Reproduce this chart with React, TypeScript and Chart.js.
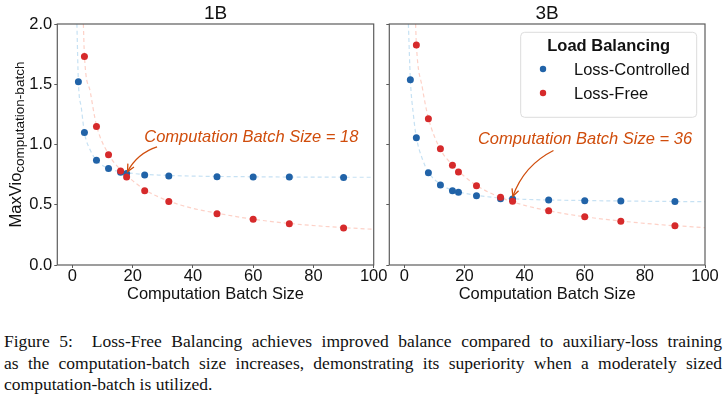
import { useEffect, useRef } from "react"
import { Chart, registerables } from "chart.js"

Chart.register(...registerables)

// --- data ---
const xTicks = [0, 20, 40, 60, 80, 100]
const yTicks = [0, 0.5, 1.0, 1.5, 2.0]

// 1B
const batch1BControlled = [2, 4, 8, 12, 16, 18, 24, 32, 48, 60, 72, 90]
const vio1BControlled = [1.52, 1.1, 0.87, 0.8, 0.77, 0.76, 0.747, 0.739, 0.733, 0.731, 0.73, 0.727]
const batch1BFree = [4, 8, 12, 16, 18, 24, 32, 48, 60, 72, 90]
const vio1BFree = [1.73, 1.15, 0.915, 0.78, 0.73, 0.617, 0.528, 0.426, 0.379, 0.343, 0.307]

// 3B
const batch3BControlled = [2, 4, 8, 12, 16, 18, 24, 32, 36, 48, 60, 72, 90]
const vio3BControlled = [1.538, 1.057, 0.766, 0.664, 0.617, 0.603, 0.575, 0.55, 0.548, 0.539, 0.534, 0.531, 0.526]
const batch3BFree = [4, 8, 12, 16, 18, 24, 32, 36, 48, 60, 72, 90]
const vio3BFree = [1.826, 1.214, 0.965, 0.827, 0.772, 0.658, 0.562, 0.529, 0.451, 0.401, 0.363, 0.326]

// dashed fitted curves
const fit1BControlledX = [1.5, 2, 3, 4, 6, 8, 12, 16, 20, 30, 40, 60, 80, 100]
const fit1BControlledY = [2.0, 1.52, 1.3, 1.1, 0.95, 0.87, 0.8, 0.775, 0.76, 0.745, 0.738, 0.732, 0.729, 0.728]
const fit1BFreeX = [3.65, 4, 6, 8, 12, 16, 20, 24, 32, 40, 48, 60, 72, 85, 100]
const fit1BFreeY = [2.0, 1.74, 1.43, 1.16, 0.92, 0.79, 0.7, 0.625, 0.53, 0.47, 0.43, 0.38, 0.345, 0.318, 0.296]
const fit3BControlledX = [1.35, 2, 3, 4, 6, 8, 12, 16, 20, 30, 40, 60, 80, 100]
const fit3BControlledY = [2.0, 1.54, 1.25, 1.06, 0.88, 0.77, 0.67, 0.62, 0.595, 0.56, 0.545, 0.535, 0.529, 0.525]
const fit3BFreeX = [3.75, 4, 6, 8, 12, 16, 20, 24, 32, 40, 48, 60, 72, 85, 100]
const fit3BFreeY = [2.0, 1.83, 1.47, 1.22, 0.96, 0.83, 0.735, 0.66, 0.56, 0.495, 0.45, 0.4, 0.365, 0.335, 0.31]

// annotation anchors, in data units: [text centre], [arrow start], [arrow tip]
const note1BText = [59.4, 1.06]
const note1BFrom = [28.1, 0.98]
const note1BTo = [18.3, 0.775]
const note3BText = [60.1, 1.04]
const note3BFrom = [49.6, 0.95]
const note3BTo = [36.1, 0.57]

const FONT = "'Liberation Sans', Arial, Helvetica, sans-serif"
const TEXT = "#111"
const FRAME = "#5c5c5c"
const BLUE = "#2163a8"
const RED = "#d62a2b"
const NOTE = "#d04d0c"

const pts = (xs: number[], ys: number[]) => xs.map((x, i) => ({ x, y: ys[i] }))

type Props = {
  title: string
  ctrlX: number[]
  ctrlY: number[]
  freeX: number[]
  freeY: number[]
  fitCtrlX: number[]
  fitCtrlY: number[]
  fitFreeX: number[]
  fitFreeY: number[]
  noteText: string
  noteAt: number[]
  noteFrom: number[]
  noteTo: number[]
  yAxisWidth: number
  padRight: number
  showYLabels: boolean
  showLegend: boolean
}

function SubPlot(p: Props) {
  const chartRef = useRef<HTMLCanvasElement>(null)
  const chartInstance = useRef<Chart | null>(null)

  useEffect(() => {
    if (!chartRef.current) return
    if (chartInstance.current) chartInstance.current.destroy()

    const decor = {
      id: "decor",
      afterDraw(chart: any) {
        const { ctx, chartArea: a, scales } = chart
        const xs = scales.x
        const ys = scales.y
        ctx.save()

        // frame
        ctx.strokeStyle = FRAME
        ctx.lineWidth = 1.2
        ctx.strokeRect(a.left, a.top, a.right - a.left, a.bottom - a.top)

        // panel title and x title
        ctx.fillStyle = TEXT
        ctx.textAlign = "center"
        ctx.textBaseline = "alphabetic"
        ctx.font = `19px ${FONT}`
        ctx.fillText(p.title, (a.left + a.right) / 2, a.top - 5.5)
        ctx.font = `16.5px ${FONT}`
        ctx.fillText("Computation Batch Size", (a.left + a.right) / 2, a.bottom + 34)

        // y title with subscript
        if (p.showYLabels) {
          ctx.save()
          ctx.translate(20.5, (a.top + a.bottom) / 2)
          ctx.rotate(-Math.PI / 2)
          ctx.textAlign = "left"
          ctx.font = `16.5px ${FONT}`
          const w1 = ctx.measureText("MaxVio").width
          ctx.font = `13.5px ${FONT}`
          const w2 = ctx.measureText("computation-batch").width
          const start = -(w1 + w2) / 2
          ctx.font = `16.5px ${FONT}`
          ctx.fillText("MaxVio", start, 0)
          ctx.font = `13.5px ${FONT}`
          ctx.fillText("computation-batch", start + w1, 3)
          ctx.restore()
        }

        // annotation
        ctx.fillStyle = NOTE
        ctx.strokeStyle = NOTE
        ctx.font = `italic 16.5px ${FONT}`
        ctx.textAlign = "center"
        ctx.textBaseline = "middle"
        ctx.fillText(p.noteText, xs.getPixelForValue(p.noteAt[0]), ys.getPixelForValue(p.noteAt[1]))
        const x0 = xs.getPixelForValue(p.noteFrom[0])
        const y0 = ys.getPixelForValue(p.noteFrom[1])
        const x1 = xs.getPixelForValue(p.noteTo[0])
        const y1 = ys.getPixelForValue(p.noteTo[1])
        const dx = x1 - x0
        const dy = y1 - y0
        const cx = (x0 + x1) / 2 - 0.2 * dy
        const cy = (y0 + y1) / 2 + 0.2 * dx
        ctx.lineWidth = 1.3
        ctx.beginPath()
        ctx.moveTo(x0, y0)
        ctx.quadraticCurveTo(cx, cy, x1, y1)
        ctx.stroke()
        const ang = Math.atan2(y1 - cy, x1 - cx)
        ctx.beginPath()
        ctx.moveTo(x1 - 8 * Math.cos(ang - 0.45), y1 - 8 * Math.sin(ang - 0.45))
        ctx.lineTo(x1, y1)
        ctx.lineTo(x1 - 8 * Math.cos(ang + 0.45), y1 - 8 * Math.sin(ang + 0.45))
        ctx.stroke()

        // legend
        if (p.showLegend) {
          const bw = 176
          const bh = 85
          const bx = a.right - 8.3 - bw
          const by = a.top + 8.3
          ctx.beginPath()
          ctx.roundRect(bx, by, bw, bh, 4)
          ctx.fillStyle = "rgba(255,255,255,0.85)"
          ctx.fill()
          ctx.strokeStyle = "#dcdcdc"
          ctx.lineWidth = 1
          ctx.stroke()
          ctx.fillStyle = TEXT
          ctx.textAlign = "center"
          ctx.textBaseline = "alphabetic"
          ctx.font = `bold 16.5px ${FONT}`
          ctx.fillText("Load Balancing", bx + bw / 2, by + 18.7)
          const items = [chart.data.datasets[1], chart.data.datasets[0]]
          items.forEach((ds: any, i: number) => {
            const base = by + 42.7 + i * 24
            ctx.fillStyle = ds.backgroundColor
            ctx.beginPath()
            ctx.arc(bx + 22.3, base - 6, 3.2, 0, Math.PI * 2)
            ctx.fill()
            ctx.fillStyle = TEXT
            ctx.textAlign = "left"
            ctx.font = `16.5px ${FONT}`
            ctx.fillText(ds.label, bx + 53.3, base)
          })
        }
        ctx.restore()
      },
    }

    const ctx = chartRef.current.getContext("2d")
    if (ctx) {
      chartInstance.current = new Chart(ctx, {
        type: "scatter",
        data: {
          datasets: [
            {
              label: "Loss-Free",
              data: pts(p.freeX, p.freeY),
              backgroundColor: RED,
              borderWidth: 0,
              pointRadius: 3.5,
              order: 0,
            },
            {
              label: "Loss-Controlled",
              data: pts(p.ctrlX, p.ctrlY),
              backgroundColor: BLUE,
              borderWidth: 0,
              pointRadius: 3.5,
              order: 1,
            },
            {
              label: "fit-controlled",
              data: pts(p.fitCtrlX, p.fitCtrlY),
              showLine: true,
              borderColor: "rgba(160,205,235,0.6)",
              borderWidth: 1.2,
              borderDash: [4, 3],
              pointRadius: 0,
              cubicInterpolationMode: "monotone",
              order: 2,
            },
            {
              label: "fit-free",
              data: pts(p.fitFreeX, p.fitFreeY),
              showLine: true,
              borderColor: "rgba(252,178,162,0.6)",
              borderWidth: 1.2,
              borderDash: [4, 3],
              pointRadius: 0,
              cubicInterpolationMode: "monotone",
              order: 2,
            },
          ],
        } as any,
        options: {
          animation: false,
          responsive: true,
          maintainAspectRatio: false,
          layout: { padding: { top: 24, right: p.padRight, left: 0, bottom: 0 } },
          plugins: { legend: { display: false }, tooltip: { enabled: false }, title: { display: false } },
          scales: {
            x: {
              type: "linear",
              min: -5,
              max: 100,
              afterBuildTicks: (s: any) => {
                s.ticks = xTicks.map((v) => ({ value: v }))
              },
              afterFit: (s: any) => {
                s.height = 45
              },
              grid: { drawOnChartArea: false, drawTicks: true, tickLength: 3, tickColor: FRAME, tickWidth: 1 },
              border: { display: false },
              ticks: { color: TEXT, font: { family: FONT, size: 16.5 }, padding: -1, maxRotation: 0, autoSkip: false },
            },
            y: {
              type: "linear",
              min: 0,
              max: 2,
              afterBuildTicks: (s: any) => {
                s.ticks = yTicks.map((v) => ({ value: v }))
              },
              afterFit: (s: any) => {
                s.width = p.yAxisWidth
              },
              grid: { drawOnChartArea: false, drawTicks: true, tickLength: 3, tickColor: FRAME, tickWidth: 1 },
              border: { display: false },
              ticks: {
                display: p.showYLabels,
                color: TEXT,
                font: { family: FONT, size: 16.5 },
                padding: 2,
                callback: (v: any) => Number(v).toFixed(1),
              },
            },
          },
        } as any,
        plugins: [decor],
      })
    }

    return () => {
      if (chartInstance.current) {
        chartInstance.current.destroy()
        chartInstance.current = null
      }
    }
  }, [])

  return (
    <div style={{ position: "relative", width: "100%", height: "100%" }}>
      <canvas ref={chartRef} />
    </div>
  )
}

const captionLines = [
  "Figure 5:\u00a0 Loss-Free Balancing achieves improved balance compared to auxiliary-loss training",
  "as the computation-batch size increases, demonstrating its superiority when a moderately sized",
  "computation-batch is utilized.",
]

export default function App() {
  return (
    <div style={{ position: "relative", width: 727, height: 400, background: "#fff", overflow: "hidden" }}>
      <style>{"body{margin:0}"}</style>
      <div style={{ position: "absolute", left: 0, top: 0, width: 392, height: 310 }}>
        <SubPlot
          title="1B"
          ctrlX={batch1BControlled}
          ctrlY={vio1BControlled}
          freeX={batch1BFree}
          freeY={vio1BFree}
          fitCtrlX={fit1BControlledX}
          fitCtrlY={fit1BControlledY}
          fitFreeX={fit1BFreeX}
          fitFreeY={fit1BFreeY}
          noteText="Computation Batch Size = 18"
          noteAt={note1BText}
          noteFrom={note1BFrom}
          noteTo={note1BTo}
          yAxisWidth={57.3}
          padRight={18.3}
          showYLabels={true}
          showLegend={false}
        />
      </div>
      <div style={{ position: "absolute", left: 378, top: 0, width: 349, height: 310 }}>
        <SubPlot
          title="3B"
          ctrlX={batch3BControlled}
          ctrlY={vio3BControlled}
          freeX={batch3BFree}
          freeY={vio3BFree}
          fitCtrlX={fit3BControlledX}
          fitCtrlY={fit3BControlledY}
          fitFreeX={fit3BFreeX}
          fitFreeY={fit3BFreeY}
          noteText="Computation Batch Size = 36"
          noteAt={note3BText}
          noteFrom={note3BFrom}
          noteTo={note3BTo}
          yAxisWidth={11.3}
          padRight={22}
          showYLabels={false}
          showLegend={true}
        />
      </div>
      <div
        style={{
          position: "absolute",
          left: 4,
          top: 331,
          width: 718,
          fontFamily: "'Liberation Serif', 'Times New Roman', serif",
          fontSize: 17.5,
          lineHeight: "21.5px",
          color: "#111",
        }}
      >
        {captionLines.map((line, i) => (
          <div
            key={i}
            style={{
              whiteSpace: "nowrap",
              textAlign: i < captionLines.length - 1 ? "justify" : "left",
              textAlignLast: i < captionLines.length - 1 ? "justify" : "left",
            }}
          >
            {line}
          </div>
        ))}
      </div>
    </div>
  )
}
